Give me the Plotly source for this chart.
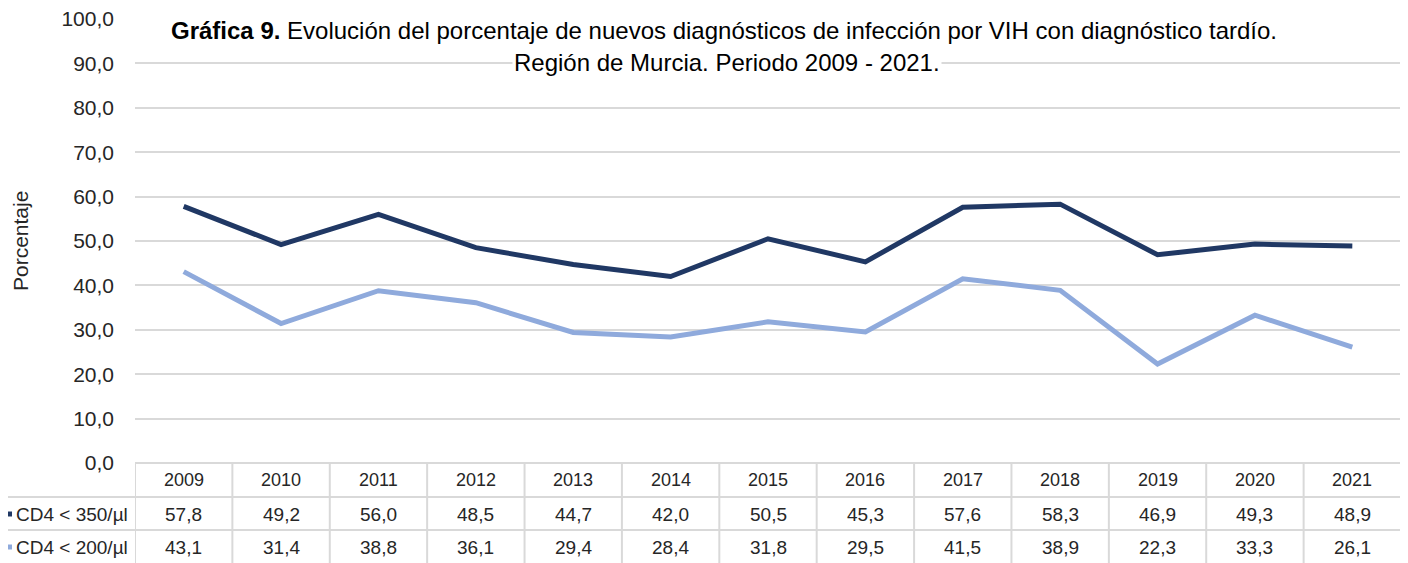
import plotly.graph_objects as go

years = ["2009", "2010", "2011", "2012", "2013", "2014", "2015", "2016", "2017", "2018", "2019", "2020", "2021"]
cd4_350 = [57.8, 49.2, 56.0, 48.5, 44.7, 42.0, 50.5, 45.3, 57.6, 58.3, 46.9, 49.3, 48.9]
cd4_200 = [43.1, 31.4, 38.8, 36.1, 29.4, 28.4, 31.8, 29.5, 41.5, 38.9, 22.3, 33.3, 26.1]
series_names = ["CD4 < 350/µl", "CD4 < 200/µl"]
series_values = [cd4_350, cd4_200]
colors = ["#203864", "#8FAADC"]

# the page body adds an 8px offset; work in screen coordinates and shift
OFF = 8
W, H = 1408 - OFF, 563 - OFF
L, R, T, B = 135, 1401, 19, 463  # screen coordinates of the plot area
ph = B - T
pw = R - L

def py(p):
    return (B - p) / ph

def px(p):
    return (p - L) / pw

FONT = "Liberation Sans"
TXT = "#262626"
GRID = "#D9D9D9"

fig = go.Figure()
for name, vals, c in zip(series_names, series_values, colors):
    fig.add_trace(go.Scatter(x=list(range(len(years))), y=vals, mode="lines", name=name,
                             line=dict(color=c, width=5), showlegend=False))

shapes = []
annotations = []

row_tops = [463, 497, 530, 563]
row_centers = [480, 514, 547]
shapes.append(dict(type="line", xref="paper", yref="paper", x0=0, x1=px(1410), y0=0, y1=0,
                   line=dict(color=GRID, width=2)))
for yy in row_tops[1:3]:
    shapes.append(dict(type="line", xref="paper", yref="paper", x0=px(OFF), x1=px(1410),
                       y0=py(yy), y1=py(yy), line=dict(color=GRID, width=2)))
for i in range(len(years)):
    shapes.append(dict(type="line", xref="x", yref="paper", x0=i - 0.5, x1=i - 0.5,
                       y0=0, y1=py(570), line=dict(color=GRID, width=2)))

for i, y in enumerate(years):
    annotations.append(dict(x=i, y=py(row_centers[0]), xref="x", yref="paper", text=y,
                            xanchor="center", yanchor="middle",
                            showarrow=False, font=dict(size=18, color=TXT, family=FONT)))
    for r, vals in enumerate(series_values):
        annotations.append(dict(x=i, y=py(row_centers[r + 1]), xref="x", yref="paper",
                                text=f"{vals[i]:.1f}".replace(".", ","), showarrow=False,
                                xanchor="center", yanchor="middle",
                                font=dict(size=19, color=TXT, family=FONT)))

for r, (name, c) in enumerate(zip(series_names, colors)):
    yc = py(row_centers[r + 1])
    shapes.append(dict(type="line", xref="paper", yref="paper", x0=px(OFF), x1=px(12),
                       y0=yc, y1=yc, line=dict(color=c, width=5)))
    annotations.append(dict(x=px(14), y=yc, xref="paper", yref="paper", text=name,
                            xanchor="left", yanchor="middle", showarrow=False,
                            font=dict(size=19, color=TXT, family=FONT)))

# y-axis title
annotations.append(dict(x=px(20), y=py(241), xref="paper", yref="paper", text="Porcentaje",
                        textangle=-90, xanchor="center", yanchor="middle", showarrow=False,
                        font=dict(size=21, color=TXT, family=FONT)))

# title
annotations.append(dict(x=px(724), y=py(31), xref="paper", yref="paper",
                        text="<b>Gráfica 9.</b> Evolución del porcentaje de nuevos diagnósticos de infección por VIH con diagnóstico tardío.",
                        xanchor="center", yanchor="middle",
                        showarrow=False, bgcolor="white", borderpad=0,
                        font=dict(size=24, color="#000000", family=FONT)))
annotations.append(dict(x=px(727), y=py(62), xref="paper", yref="paper",
                        text="Región de Murcia. Periodo 2009 - 2021.",
                        xanchor="center", yanchor="middle",
                        showarrow=False, bgcolor="white", borderpad=1,
                        font=dict(size=24, color="#000000", family=FONT)))

fig.update_layout(
    width=W, height=H,
    margin=dict(l=L - OFF, r=W - (R - OFF), t=T - OFF, b=H - (B - OFF), autoexpand=False),
    paper_bgcolor="white", plot_bgcolor="white",
    separators=",.",
    shapes=shapes, annotations=annotations,
    xaxis=dict(range=[-0.5, len(years) - 0.5], showticklabels=False, showgrid=False,
               zeroline=False, showline=False, ticks="", automargin=False),
    yaxis=dict(range=[0, 100], dtick=10, tickformat=".1f", showgrid=True, gridcolor=GRID,
               gridwidth=2, zeroline=False, showline=False, ticks="", automargin=False,
               ticklabelstandoff=20, ticklabeloverflow="allow",
               tickfont=dict(size=21, color=TXT, family=FONT)),
)

fig.write_html("out.html")
